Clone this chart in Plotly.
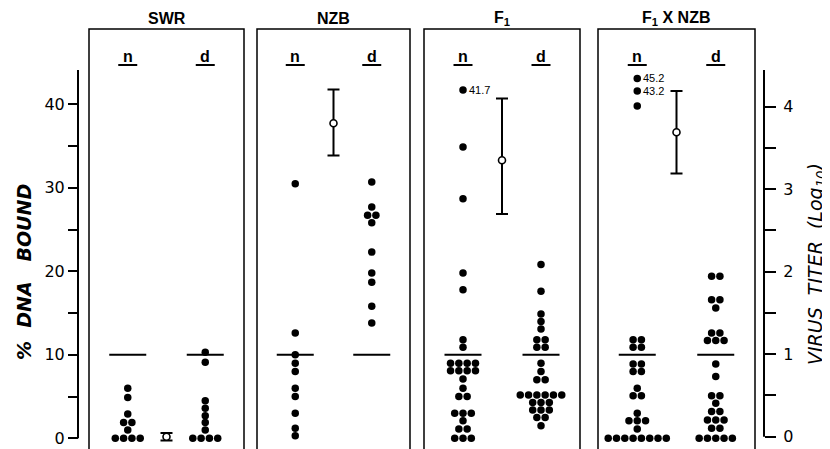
import plotly.graph_objects as go

# ---------------- data ----------------
PANEL_TITLES = ["SWR", "NZB", "F<sub>1</sub>", "F<sub>1</sub> X NZB"]
GROUPS = ["n", "d"]

SWR_N = [6.0, 4.9, 2.9, 1.9, 1.9, 1.0, 0, 0, 0, 0]
SWR_D = [10.3, 9.1, 4.5, 3.6, 2.7, 1.9, 1.0, 0, 0, 0, 0]

NZB_N = [30.5, 12.6, 10.0, 9.0, 8.0, 6.0, 5.0, 3.0, 1.2, 0.3]
NZB_D = [30.7, 27.7, 26.7, 26.7, 25.8, 22.3, 19.8, 18.7, 15.8, 13.8]

F1_N = [41.7, 34.9, 28.7, 19.8, 17.8, 11.8, 10.9,
        9.0, 9.0, 9.0, 9.0, 8.1, 8.1, 8.1, 8.1, 7.1, 6.0, 5.0, 5.0,
        3.0, 3.0, 3.0, 2.1, 1.1, 1.1, 0, 0, 0]
F1_D = [20.8, 17.6, 14.9, 14.0, 13.1, 11.8, 11.8, 10.9, 10.9,
        9.0, 8.0, 7.0, 7.0, 5.2, 5.2, 5.2, 5.2, 5.2, 5.2,
        4.3, 4.3, 4.3, 3.4, 3.4, 3.4, 2.5, 2.5, 1.5]

FXN_N = [43.1, 41.6, 39.8, 11.8, 11.8, 10.9, 10.9, 8.9, 8.9, 8.0, 8.0,
         6.0, 5.1, 5.1, 3.0, 2.1, 2.1, 2.1, 1.1,
         0, 0, 0, 0, 0, 0, 0, 0]
FXN_D = [19.4, 19.4, 16.6, 16.6, 15.6, 12.6, 12.6, 11.7, 11.7, 11.7,
         8.9, 7.4, 5.1, 5.1, 4.2, 3.2, 3.2, 2.2, 2.2, 2.2, 1.2, 1.2,
         0, 0, 0, 0, 0]

N_VALUES = [SWR_N, NZB_N, F1_N, FXN_N]
D_VALUES = [SWR_D, NZB_D, F1_D, FXN_D]

THRESHOLD = 10  # % DNA bound, upper normal limit

# virus titer (log10): mean, + and - error
TITER_MEAN = [0.0, 3.80, 3.35, 3.69]
TITER_PLUS = [0.045, 0.41, 0.75, 0.50]
TITER_MINUS = [0.045, 0.39, 0.65, 0.50]

# labelled off-scale points: (panel, index in n list, label)
POINT_LABELS = [(2, 0, "41.7"), (3, 0, "45.2"), (3, 1, "43.2")]

LEFT_TICKS = [0, 5, 10, 15, 20, 25, 30, 35, 40]
LEFT_TICKTEXT = ["0", "", "10", "", "20", "", "30", "", "40"]
RIGHT_TICKS = [0, 0.5, 1, 1.5, 2, 2.5, 3, 3.5, 4]
RIGHT_TICKTEXT = ["0", "", "1", "", "2", "", "3", "", "4"]

# ---------------- layout geometry (window pixels) ----------------
WIN_W, WIN_H = 830, 449
OFF = 8                       # default page body margin
W, H = WIN_W - OFF, WIN_H - OFF
PANEL_PX = [(89, 244), (257, 410), (424, 580), (598, 755)]
PANEL_TOP_PX = 29
Y0_PX, PX_PER_PCT = 438.3, 8.35
T0_PX, PX_PER_TITER = 436.7, 82.5
LEFT_AXIS_PX, RIGHT_AXIS_PX = 78, 764
AXIS_TOP_PX = 70
DOT_STEP_PX = 8.3
COL = {"n": 0.25, "d": 0.75}
ERR_X = 0.5


def px_x(px):
    return (px - OFF) / W


def px_y(py):
    return 1 - (py - OFF) / H


y_range = [(Y0_PX - WIN_H) / PX_PER_PCT, (Y0_PX - OFF) / PX_PER_PCT]
y2_range = [(T0_PX - WIN_H) / PX_PER_TITER, (T0_PX - OFF) / PX_PER_TITER]


def swarm(values, center, step):
    rows = {}
    for v in values:
        rows[v] = rows.get(v, 0) + 1
    xs, ys = [], []
    for v, cnt in rows.items():
        for k in range(cnt):
            xs.append(center + (k - (cnt - 1) / 2) * step)
            ys.append(v)
    return xs, ys


FONT = "Liberation Sans"
TFONT = "DejaVu Sans"
fig = go.Figure()
shapes, annotations = [], []


def ann(**kw):
    base = dict(showarrow=False, xanchor="center", yanchor="middle")
    base.update(kw)
    annotations.append(base)


for i, (x0, x1) in enumerate(PANEL_PX):
    xa = "x" if i == 0 else f"x{i+1}"
    width = x1 - x0
    step = DOT_STEP_PX / width
    for g, vals in zip(GROUPS, [N_VALUES[i], D_VALUES[i]]):
        xs, ys = swarm(vals, COL[g], step)
        fig.add_trace(go.Scatter(x=xs, y=ys, mode="markers", xaxis=xa, yaxis="y",
                                 marker=dict(size=7.5, color="black"),
                                 hoverinfo="skip", cliponaxis=False))
        half = 18.5 / width
        fig.add_trace(go.Scatter(x=[COL[g] - half, COL[g] + half], y=[THRESHOLD, THRESHOLD],
                                 mode="lines", xaxis=xa, yaxis="y",
                                 line=dict(color="black", width=2), hoverinfo="skip"))
        ann(x=COL[g], y=px_y(56), xref=xa, yref="paper", text=f"<b>{g}</b>",
            font=dict(family=FONT, size=16, color="black"))
        uh = 9.5 / width
        shapes.append(dict(type="line", xref=xa, yref="paper", x0=COL[g] - uh, x1=COL[g] + uh,
                           y0=px_y(65), y1=px_y(65), line=dict(color="black", width=2)))
    fig.add_trace(go.Scatter(x=[ERR_X], y=[TITER_MEAN[i]], mode="markers", xaxis=xa, yaxis="y2",
                             error_y=dict(type="data", symmetric=False, array=[TITER_PLUS[i]],
                                          arrayminus=[TITER_MINUS[i]], width=6, thickness=2,
                                          color="black"),
                             marker=dict(symbol="circle", size=7, color="white",
                                         line=dict(color="black", width=1.6)),
                             hoverinfo="skip", cliponaxis=False))
    fx0, fx1 = px_x(x0), px_x(x1)
    yb, yt = px_y(WIN_H + 5), px_y(PANEL_TOP_PX)
    shapes.append(dict(type="path", xref="paper", yref="paper",
                       path=f"M {fx0},{yb} L {fx0},{yt} L {fx1},{yt} L {fx1},{yb}",
                       line=dict(color="black", width=1.5)))
    ann(x=(fx0 + fx1) / 2, y=px_y(19), xref="paper", yref="paper",
        text=f"<b>{PANEL_TITLES[i]}</b>", font=dict(family=FONT, size=16, color="black"))

for p, idx, lab in POINT_LABELS:
    xa = "x" if p == 0 else f"x{p+1}"
    ann(x=COL["n"], y=N_VALUES[p][idx], xref=xa, yref="y", text=lab,
        xanchor="left", xshift=4, font=dict(family=FONT, size=11, color="black"))

shapes.append(dict(type="line", xref="paper", yref="y", x0=px_x(LEFT_AXIS_PX), x1=px_x(LEFT_AXIS_PX),
                   y0=0, y1=(Y0_PX - AXIS_TOP_PX) / PX_PER_PCT, line=dict(color="black", width=2)))
shapes.append(dict(type="line", xref="paper", yref="y2", x0=px_x(RIGHT_AXIS_PX), x1=px_x(RIGHT_AXIS_PX),
                   y0=0, y1=(T0_PX - AXIS_TOP_PX) / PX_PER_TITER, line=dict(color="black", width=2)))

ann(x=px_x(24), y=px_y(272), xref="paper", yref="paper",
    text="<b><i>%  DNA   BOUND</i></b>", textangle=-90,
    font=dict(family=TFONT, size=19, color="black"))
ann(x=px_x(816), y=px_y(264), xref="paper", yref="paper",
    text="<i>VIRUS  TITER  (Log<sub>10</sub>)</i>", textangle=-90,
    font=dict(family=TFONT, size=19, color="black"))

layout = dict(width=W, height=H, margin=dict(l=0, r=0, t=0, b=0),
              paper_bgcolor="white", plot_bgcolor="white", showlegend=False,
              shapes=shapes, annotations=annotations)
for i, (x0, x1) in enumerate(PANEL_PX):
    key = "xaxis" if i == 0 else f"xaxis{i+1}"
    layout[key] = dict(domain=[px_x(x0), px_x(x1)], range=[0, 1], visible=False,
                       anchor="y", fixedrange=True)
layout["yaxis"] = dict(range=y_range, anchor="free", position=px_x(LEFT_AXIS_PX),
                       tickvals=LEFT_TICKS, ticktext=LEFT_TICKTEXT, ticks="outside",
                       ticklen=10, tickwidth=2, tickcolor="black", showline=False,
                       showgrid=False, zeroline=False,
                       tickfont=dict(family=TFONT, size=16, color="black"))
layout["yaxis2"] = dict(range=y2_range, overlaying="y", side="right", anchor="free",
                        position=px_x(RIGHT_AXIS_PX), tickvals=RIGHT_TICKS,
                        ticktext=RIGHT_TICKTEXT, ticks="outside", ticklen=11, tickwidth=2,
                        tickcolor="black", showline=False, showgrid=False, zeroline=False,
                        ticklabelstandoff=4,
                        tickfont=dict(family=TFONT, size=16, color="black"))
fig.update_layout(**layout)
fig.write_html("out.html")
